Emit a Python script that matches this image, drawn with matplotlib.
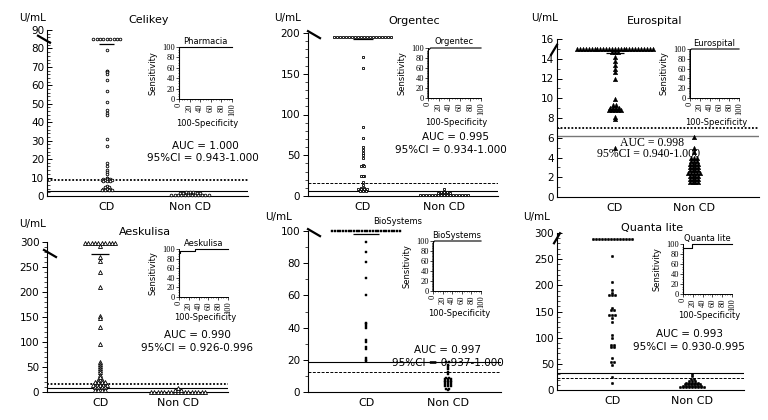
import matplotlib
matplotlib.use('Agg')
import matplotlib.pyplot as plt
from matplotlib.lines import Line2D
from matplotlib.ticker import MultipleLocator
import numpy as np

plt.rcParams['font.family'] = ['DejaVu Sans']

W, H = 768, 420

# ---------------- data ----------------
categories = ['CD', 'Non CD']
roc_ticks = [0, 20, 40, 60, 80, 100]

celikey_cd = [85, 85, 85, 85, 85, 85, 85, 85, 85, 79, 68, 67.5, 67, 66, 63, 57, 51, 46.5, 45, 44,
              31, 27, 18, 16, 14, 13, 12, 10, 9.5, 9, 9, 9, 8.5, 8.5, 8.5, 8.5, 8, 8, 8,
              5.5, 5, 5, 4, 4, 4, 3, 3, 3, 3]
celikey_non = [0.7, 0.7, 0.7, 0.7, 0.7, 0.7, 0.7, 0.7, 0.7, 0.7, 0.7, 0.7,
               1.5, 1.5, 1.5, 1.5, 1.5, 1.5, 1.5, 2.2, 2.2, 2.2]
celikey_cutoffs = [8.5, 2.5]
celikey_median = 82.5
pharmacia_fpr = [0, 0, 100]
pharmacia_tpr = [0, 100, 100]

orgentec_cd = [195, 195, 195, 195, 195, 195, 195, 195, 195, 195,
               195, 195, 195, 195, 195, 195, 195, 195, 195, 195,
               171, 157, 85, 71, 60, 56, 53, 50, 47, 38, 37, 37, 25, 25, 24,
               17, 13, 10, 10, 8, 8, 8, 8, 6, 6, 6]
orgentec_non = [1.5, 1.5, 1.5, 1.5, 1.5, 1.5, 1.5, 1.5, 1.5, 1.5, 1.5, 1.5, 1.5, 1.5, 1.5, 1.5, 1.5,
                3.5, 3.5, 3.5, 3.5, 3.5, 5.5, 5.5, 5.5, 8]
orgentec_cutoffs = [16, 6]
orgentec_median = 193
orgentec_fpr = [0, 0, 1, 3, 5, 100]
orgentec_tpr = [0, 93, 96, 98, 100, 100]

eurospital_cd = [15, 15, 15, 15, 15, 15, 15, 15, 15, 15, 15, 15, 15, 15,
                 15, 15, 15, 15, 15, 15, 15, 15, 15, 15, 15, 15, 15,
                 14.7, 14.7, 14.7, 14.2, 13.8, 13.4, 13.0, 12.7, 11.9, 9.9,
                 9.3, 9.3, 9.0, 9.0, 9.0, 9.0, 8.8, 8.8, 8.8, 8.8, 8.8, 8.1, 7.9, 5.0]
eurospital_non = [6.1, 5.0, 4.6, 4.0, 4.0, 4.0, 3.6, 3.6, 3.6, 3.3, 3.3, 3.3, 3.3,
                  3.0, 3.0, 3.0, 3.0, 2.7, 2.7, 2.7, 2.7, 2.4, 2.4, 2.4, 2.4, 2.4,
                  2.1, 2.1, 2.1, 2.1, 1.8, 1.8, 1.8, 1.8, 1.5, 1.5, 1.5, 1.5]
eurospital_cutoffs = [7.0, 6.2]
eurospital_median = 14.6
eurospital_fpr = [0, 0, 3, 100]
eurospital_tpr = [0, 97, 100, 100]

aeskulisa_cd = [298, 298, 298, 298, 298, 298, 298, 298, 298, 298, 292, 270, 263, 240, 210,
                153, 148, 130, 96, 60, 57, 53, 49, 45, 40, 35, 30, 25, 25,
                20, 20, 20, 20, 15, 15, 15, 15, 15, 10, 10, 10, 10, 5, 5, 5, 5]
aeskulisa_non = [1, 1, 1, 1, 1, 1, 1, 1, 1, 1, 1, 1, 1, 1, 1, 1, 1, 4, 4, 4, 9]
aeskulisa_cutoffs = [17, 8]
aeskulisa_median = 276
aeskulisa_fpr = [0, 0, 3, 3, 33, 33, 100]
aeskulisa_tpr = [0, 92, 92, 95, 95, 100, 100]

biosystems_cd = [100, 100, 100, 100, 100, 100, 100, 100, 100, 100, 100, 100, 100,
                 100, 100, 100, 100, 100, 100, 100, 100, 100, 100, 100, 100, 100,
                 93, 87, 81, 71, 60, 43, 42, 41, 40, 32, 31, 28, 27, 21, 20, 19]
biosystems_non = [18.5, 18.5, 17, 15.5, 14, 12.5, 11, 9, 9, 8, 8, 8, 7, 7, 7, 6, 6, 6,
                  5, 5, 5, 4, 4, 4, 2, 2, 1]
biosystems_cutoffs = [18.5, 12.5]
biosystems_median = 98
biosystems_fpr = [0, 0, 3, 100]
biosystems_tpr = [0, 95, 100, 100]

quanta_cd = [288, 288, 288, 288, 288, 288, 288, 288, 288, 288, 288, 288, 288, 288,
             256, 206, 191, 186, 181, 181, 181, 157, 153, 153, 143, 143, 143, 138, 130,
             105, 100, 86, 86, 82, 82, 61, 54, 54, 48, 25, 13]
quanta_non = [31, 26, 21, 21, 17, 17, 17, 14, 14, 14, 14, 14, 11, 11, 11, 11, 11, 11,
              8, 8, 8, 8, 8, 8, 8, 5, 5, 5, 5, 5, 5, 5, 5, 5]
quanta_cutoffs = [32, 23]
quanta_median = None
quanta_fpr = [0, 0, 18, 18, 100]
quanta_tpr = [0, 93, 93, 100, 100]

auc_texts = ['AUC = 1.000', 'AUC = 0.995', 'AUC = 0.998', 'AUC = 0.990', 'AUC = 0.997', 'AUC = 0.993']
ci_texts = ['95%CI = 0.943-1.000', '95%CI = 0.934-1.000', '95%CI = 0.940-1.000',
            '95%CI = 0.926-0.996', '95%CI = 0.937-1.000', '95%CI = 0.930-0.995']

# ---------------- layout / style ----------------
dot_line = dict(color='black', lw=1.3, ls=(0, (1, 1)))
solid_line = dict(color='black', lw=0.8, ls='-')
gray_line = dict(color='#777777', lw=1.0, ls='-')
dash_line = dict(color='black', lw=0.7, ls=(0, (3, 1.5)))

panels = [
    dict(title='Celikey', roc_title='Pharmacia', cd=celikey_cd, non=celikey_non,
         cut=celikey_cutoffs, cut_styles=[dot_line, solid_line], median=celikey_median, mw=0.09,
         fpr=pharmacia_fpr, tpr=pharmacia_tpr,
         marker=dict(marker='o', ms=1.9, mfc='white', mec='black', mew=0.6), spacing=3.4,
         box=(47, 30, 248, 196), ylim=(0, 90), xlim=(0.28, 2.70), major=10, minor=2, tdir='in',
         inset=(179, 47, 232, 99), xl_y=123, title_xy=(149, 20), unit_xy=(33, 18),
         auc_xy=(205, 146), ci_xy=(203, 158), auc_font=dict(size=7.5),
         brk=(85, -3, 'b')),
    dict(title='Orgentec', roc_title='Orgentec', cd=orgentec_cd, non=orgentec_non,
         cut=orgentec_cutoffs, cut_styles=[dash_line, solid_line], median=orgentec_median, mw=0.12,
         fpr=orgentec_fpr, tpr=orgentec_tpr,
         marker=dict(marker='s', ms=2.0, mfc='white', mec='black', mew=0.6), spacing=3.0,
         box=(308, 33, 498, 196), ylim=(0, 200), xlim=(0.32, 2.67), major=50, minor=10, tdir='out',
         inset=(428, 48, 481, 98), xl_y=122, title_xy=(414, 21), unit_xy=(288, 18),
         auc_xy=(455, 137), ci_xy=(451, 150), auc_font=dict(size=7.5),
         brk=(198, 6, 'b')),
    dict(title='Eurospital', roc_title='Eurospital', cd=eurospital_cd, non=eurospital_non,
         cut=eurospital_cutoffs, cut_styles=[dot_line, gray_line], median=eurospital_median, mw=0.11,
         fpr=eurospital_fpr, tpr=eurospital_tpr,
         marker=dict(marker='^', ms=3.3, mfc='black', mec='black', mew=0.3), spacing=2.9,
         box=(557, 39, 759, 197), ylim=(0, 16), xlim=(0.27, 2.82), major=2, minor=1, tdir='in',
         inset=(690, 49, 739, 98), xl_y=122, title_xy=(655, 21), unit_xy=(545, 18),
         auc_xy=(652, 143), ci_xy=(649, 154), auc_font=dict(size=8.5, family='Liberation Serif'),
         brk=(14.9, -3, 'f')),
    dict(title='Aeskulisa', roc_title='Aeskulisa', cd=aeskulisa_cd, non=aeskulisa_non,
         cut=aeskulisa_cutoffs, cut_styles=[dot_line, solid_line], median=aeskulisa_median, mw=0.12,
         fpr=aeskulisa_fpr, tpr=aeskulisa_tpr,
         marker=dict(marker='^', ms=2.9, mfc='white', mec='black', mew=0.6), spacing=3.4,
         box=(47, 242, 228, 392), ylim=(0, 300), xlim=(0.32, 2.64), major=50, minor=10, tdir='out',
         inset=(179, 249, 228, 297), xl_y=318, title_xy=(145, 232), unit_xy=(33, 224),
         auc_xy=(197, 335), ci_xy=(197, 348), auc_font=dict(size=7.5),
         brk=(277, 3, 'b')),
    dict(title='BioSystems', roc_title='BioSystems', cd=biosystems_cd, non=biosystems_non,
         cut=biosystems_cutoffs, cut_styles=[solid_line, dash_line], median=biosystems_median, mw=0.16,
         fpr=biosystems_fpr, tpr=biosystems_tpr,
         marker=dict(marker='s', ms=1.7, mfc='black', mec='black', mew=0.3), spacing=2.7,
         box=(308, 231, 501, 392), ylim=(0, 100), xlim=(0.29, 2.65), major=20, minor=10, tdir='out',
         inset=(433, 241, 481, 291), xl_y=314, title_xy=(398, 222), unit_xy=(279, 217),
         auc_xy=(447, 350), ci_xy=(448, 363), auc_font=dict(size=7.5), title_size=6,
         brk=(99, 6, 'b')),
    dict(title='Quanta lite', roc_title='Quanta lite', cd=quanta_cd, non=quanta_non,
         cut=quanta_cutoffs, cut_styles=[solid_line, dash_line], median=quanta_median, mw=0.1,
         fpr=quanta_fpr, tpr=quanta_tpr,
         marker=dict(marker='o', ms=1.8, mfc='black', mec='black', mew=0.3), spacing=3.0,
         box=(557, 233, 744, 390), ylim=(0, 300), xlim=(0.31, 2.65), major=50, minor=10, tdir='in',
         inset=(683, 244, 732, 294), xl_y=316, title_xy=(652, 228), unit_xy=(537, 217),
         auc_xy=(689, 334), ci_xy=(689, 347), auc_font=dict(size=7.5),
         brk=(290, 0, 'f')),
]


def swarm(vals, dx):
    """Lay tied values out side by side (dot-plot rows)."""
    rows = {}
    for v in vals:
        rows.setdefault(v, 0)
        rows[v] += 1
    xs, ys = [], []
    for v, n in rows.items():
        for i in range(n):
            xs.append((i - (n - 1) / 2) * dx)
            ys.append(v)
    return np.array(xs), np.array(ys)


fig = plt.figure(figsize=(W / 100, H / 100), dpi=100)


def ftext(x, y, s, **kw):
    kw.setdefault('ha', 'center')
    kw.setdefault('va', 'center')
    fig.text(x / W, 1 - y / H, s, **kw)


def add_ax(box):
    l, t, r, b = box
    return fig.add_axes([l / W, 1 - b / H, (r - l) / W, (b - t) / H])


for k, p in enumerate(panels):
    l, t, r, b = p['box']
    ax = add_ax(p['box'])
    ax.patch.set_alpha(0)
    ax.set_xlim(*p['xlim'])
    ax.set_ylim(*p['ylim'])
    for s in ['top', 'right']:
        ax.spines[s].set_visible(False)
    ax.spines['left'].set_linewidth(0.8)
    ax.spines['bottom'].set_linewidth(0.8)
    ax.yaxis.set_major_locator(MultipleLocator(p['major']))
    ax.yaxis.set_minor_locator(MultipleLocator(p['minor']))
    ax.tick_params(axis='y', which='major', direction=p['tdir'], length=3.5, width=0.7,
                   labelsize=7.5, pad=2)
    ax.tick_params(axis='y', which='minor', direction=p['tdir'], length=2, width=0.5)
    ax.set_xticks([1, 2])
    ax.set_xticklabels(categories, fontsize=8)
    ax.tick_params(axis='x', length=0, pad=4)

    for v, st in zip(p['cut'], p['cut_styles']):
        ax.axhline(v, zorder=1, **st)
    if p['median'] is not None:
        ax.hlines(p['median'], 1 - p['mw'], 1 + p['mw'], color='black', lw=0.9, zorder=2)

    ppx = (r - l) / (p['xlim'][1] - p['xlim'][0])
    dx = p['spacing'] / ppx
    for xc, vals in zip([1, 2], [p['cd'], p['non']]):
        ox, oy = swarm(vals, dx)
        ax.plot(xc + ox, oy, ls='none', clip_on=False, zorder=3, **p['marker'])

    # axis break mark
    bv, bdx, bdir = p['brk']
    y0, y1 = p['ylim']
    cy = b - (bv - y0) / (y1 - y0) * (b - t)
    cx = l + bdx
    if bdir == 'b':
        xs, ys = [cx - 6, cx + 6], [cy - 3.5, cy + 3.5]
    else:
        xs, ys = [cx - 3, cx + 3], [cy + 5, cy - 5]
    fig.add_artist(Line2D([x / W for x in xs], [1 - y / H for y in ys], color='black', lw=1.6,
                          transform=fig.transFigure))

    # texts
    ftext(*p['title_xy'], p['title'], fontsize=p.get('title_size', 8))
    ftext(*p['unit_xy'], 'U/mL', fontsize=7.5)
    fkw = {('fontsize' if kk == 'size' else kk): vv for kk, vv in p['auc_font'].items()}
    ftext(*p['auc_xy'], auc_texts[k], **fkw)
    ftext(*p['ci_xy'], ci_texts[k], **fkw)

    # ROC inset
    il, it, ir, ib = p['inset']
    ia = add_ax(p['inset'])
    ia.patch.set_alpha(0)
    ia.set_xlim(0, 100)
    ia.set_ylim(0, 100)
    for s in ['top', 'right']:
        ia.spines[s].set_visible(False)
    ia.spines['left'].set_linewidth(0.7)
    ia.spines['bottom'].set_linewidth(0.7)
    ia.plot(p['fpr'], p['tpr'], color='black', lw=0.8, clip_on=False)
    ia.set_xticks(roc_ticks)
    ia.set_yticks(roc_ticks)
    ia.xaxis.set_minor_locator(MultipleLocator(5))
    ia.yaxis.set_minor_locator(MultipleLocator(5))
    ia.tick_params(which='major', length=2, width=0.5, pad=1)
    ia.tick_params(which='minor', length=1, width=0.4)
    for lab in ia.get_xticklabels() + ia.get_yticklabels():
        lab.set_fontfamily('Liberation Serif')
        lab.set_fontsize(6)
    for lab in ia.get_xticklabels():
        lab.set_rotation(90)
    ftext((il + ir) / 2, it - 6, p['roc_title'], fontsize=6)
    ftext(il - 26, (it + ib) / 2, 'Sensitivity', fontsize=6, rotation=90)
    ftext((il + ir) / 2 + 2, p['xl_y'], '100-Specificity', fontsize=6)

fig.savefig('out.png', dpi=100)
